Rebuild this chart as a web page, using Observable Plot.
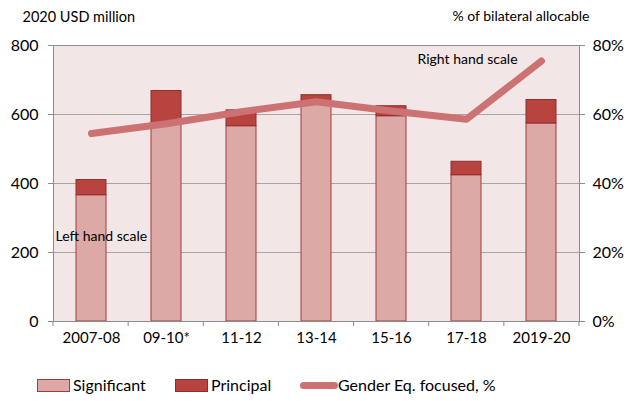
<!DOCTYPE html>
<html><head><meta charset="utf-8">
<script src="https://cdn.jsdelivr.net/npm/d3@7"></script>
<script src="https://cdn.jsdelivr.net/npm/@observablehq/plot@0.6"></script>
<style>
body{margin:0;background:#fff;font-family:Lato,"Open Sans",sans-serif;}
#wrap{position:relative;width:634px;height:401px;}
#legend{position:absolute;left:0;top:365px;width:634px;height:36px;font-size:16px;color:#000;}
.sw{position:absolute;box-sizing:border-box;}
.lt{position:absolute;top:10px;line-height:20px;}
</style></head><body>
<div id="wrap"><div id="chart"></div><div id="legend"></div></div>
<script>
const periods = ["2007-08", "09-10*", "11-12", "13-14", "15-16", "17-18", "2019-20"];
const significant = [366, 575, 566, 635, 595, 424, 574];
const principal = [44, 93, 46, 21, 29, 39, 68];
const genderPct = [54.5, 57.3, 60.8, 63.7, 61.0, 58.6, 75.5];
const leftTicks = [0, 200, 400, 600, 800];
const gridTicks = [200, 400, 600];
const seriesNames = ["Significant", "Principal", "Gender Eq. focused, %"];

const C = {
  bg: "#f2e6e6", grid: "#a6a6a6", axis: "#8c8c8c",
  sigFill: "#dca9a6", sigStroke: "#a33d3b",
  prinFill: "#b9443f", prinStroke: "#8e2d2b",
  line: "#cd7273"
};

const bars = periods.map((p, i) => ({period: p, sig: significant[i], prin: principal[i], total: significant[i] + principal[i]}));
const lineData = periods.map((p, i) => ({period: p, v: genderPct[i] * 10}));

function boundaryTicks(index, scales, values, dimensions) {
  const {width, height, marginLeft, marginRight, marginBottom} = dimensions;
  const n = periods.length;
  const step = (width - marginLeft - marginRight) / n;
  const y0 = height - marginBottom;
  const g = d3.create("svg:g").attr("stroke", C.axis).attr("stroke-width", 1);
  for (let i = 0; i <= n; i++) {
    const x = marginLeft + i * step;
    g.append("line").attr("x1", x).attr("x2", x).attr("y1", y0).attr("y2", y0 + 5);
  }
  return g.node();
}

const plot = Plot.plot({
  width: 634, height: 365,
  marginLeft: 53, marginRight: 55, marginTop: 45, marginBottom: 44,
  style: {fontFamily: "Lato, 'Open Sans', sans-serif", background: "transparent"},
  x: {type: "band", domain: periods, paddingInner: 0.6, paddingOuter: 0.3},
  y: {domain: [0, 800]},
  marks: [
    Plot.frame({fill: C.bg, stroke: null}),
    Plot.ruleY(gridTicks, {stroke: C.grid, strokeWidth: 1}),
    Plot.barY(bars, {x: "period", y1: 0, y2: "sig", fill: C.sigFill, stroke: C.sigStroke, strokeWidth: 1}),
    Plot.barY(bars, {x: "period", y1: "sig", y2: "total", fill: C.prinFill, stroke: C.prinStroke, strokeWidth: 1}),
    Plot.line(lineData, {x: "period", y: "v", stroke: C.line, strokeWidth: 7, strokeLinecap: "round", strokeLinejoin: "round"}),
    Plot.frame({stroke: C.axis, strokeWidth: 1, fill: null}),
    Plot.axisY(leftTicks, {anchor: "left", tickSize: 5, tickPadding: 10, stroke: C.axis, fill: "#000", fontSize: 16, label: null}),
    Plot.axisY(leftTicks, {anchor: "right", tickSize: 5, tickPadding: 8, stroke: C.axis, fill: "#000", fontSize: 16, label: null, tickFormat: d => (d / 10) + "%"}),
    Plot.axisX({tickSize: 0, tickPadding: 11, fontSize: 15, fill: "#000", label: null}),
    boundaryTicks,
    Plot.text(["2020 USD million"], {frameAnchor: "top-left", dx: -31, dy: -34, textAnchor: "start", fontSize: 14.5, fill: "#000"}),
    Plot.text(["% of bilateral allocable"], {frameAnchor: "top-right", dx: 10, dy: -34, textAnchor: "end", fontSize: 14, fill: "#000"}),
    Plot.text(["Left hand scale"], {x: () => periods[0], y: () => 245, dx: -36, textAnchor: "start", fontSize: 14, fill: "#000"}),
    Plot.text(["Right hand scale"], {x: () => periods[5], y: () => 760, dx: -49, textAnchor: "start", fontSize: 14, fill: "#000"})
  ]
});
document.getElementById("chart").appendChild(plot);

const legend = document.getElementById("legend");
const items = [
  {name: seriesNames[0], kind: "box", fill: C.sigFill, stroke: C.sigStroke, x: 37, w: 33, tx: 73},
  {name: seriesNames[1], kind: "box", fill: C.prinFill, stroke: C.prinStroke, x: 175, w: 33, tx: 211},
  {name: seriesNames[2], kind: "line", fill: C.line, x: 300, w: 38, tx: 338}
];
for (const it of items) {
  const s = document.createElement("div");
  s.className = "sw";
  s.style.left = it.x + "px";
  s.style.width = it.w + "px";
  if (it.kind === "box") {
    s.style.top = "14px"; s.style.height = "13px";
    s.style.background = it.fill; s.style.border = "1px solid " + it.stroke;
  } else {
    s.style.top = "17px"; s.style.height = "7px"; s.style.borderRadius = "4px";
    s.style.background = it.fill;
  }
  legend.appendChild(s);
  const t = document.createElement("div");
  t.className = "lt"; t.style.left = it.tx + "px"; t.textContent = it.name;
  legend.appendChild(t);
}
</script></body></html>
